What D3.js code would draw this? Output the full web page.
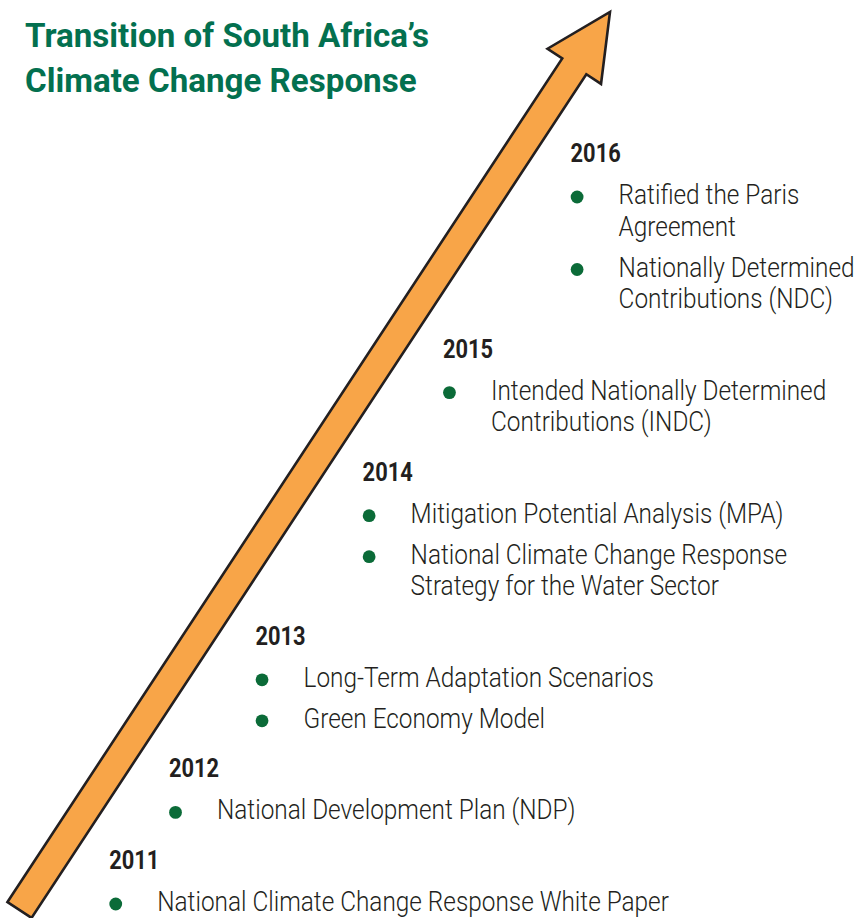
<!DOCTYPE html>
<html>
<head>
<meta charset="utf-8">
<script src="https://cdn.jsdelivr.net/npm/d3@7"></script>
<style>
  html, body { margin: 0; padding: 0; background: #ffffff; }
  svg { display: block; }
</style>
</head>
<body>
<svg id="chart" width="860" height="918"></svg>
<script>
// ---------- data ----------
const titleLines = ["Transition of South Africa\u2019s", "Climate Change Response"];
const years = [2016, 2015, 2014, 2013, 2012, 2011];
const items2016 = [["Ratified the Paris", "Agreement"], ["Nationally Determined", "Contributions (NDC)"]];
const items2015 = [["Intended Nationally Determined", "Contributions (INDC)"]];
const items2014 = [["Mitigation Potential Analysis (MPA)"], ["National Climate Change Response", "Strategy for the Water Sector"]];
const items2013 = [["Long-Term Adaptation Scenarios"], ["Green Economy Model"]];
const items2012 = [["National Development Plan (NDP)"]];
const items2011 = [["National Climate Change Response White Paper"]];
const itemsByYear = [items2016, items2015, items2014, items2013, items2012, items2011];

// ---------- style / layout ----------
const C = {
  title: "#03704f", text: "#231f20", bullet: "#0b6b38",
  arrowFill: "#f8a548", arrowStroke: "#231f20"
};
const svg = d3.select("#chart");

// Arrow geometry (start = bottom centre, end = tip)
const arrowStart = [19.5, 910], arrowTip = [610, 12];
const shaftHalf = 14.4, headHalf = 32, headLen = 65;
const dx = arrowTip[0] - arrowStart[0], dy = arrowTip[1] - arrowStart[1];
const L = Math.hypot(dx, dy);
const u = [dx / L, dy / L];          // along arrow
const p = [-u[1], u[0]];             // right-hand normal
const along = d3.scaleLinear().domain([0, 1]).range([0, L]);
const pt = (t, off) => [arrowStart[0] + u[0] * along(t) + p[0] * off,
                        arrowStart[1] + u[1] * along(t) + p[1] * off];
const tb = 1 - headLen / L;
const arrowPts = [
  pt(0, -shaftHalf), pt(tb, -shaftHalf), pt(tb, -headHalf), pt(1, 0),
  pt(tb, headHalf), pt(tb, shaftHalf), pt(0, shaftHalf)
];
svg.append("path")
  .attr("d", d3.line()(arrowPts) + "Z")
  .attr("fill", C.arrowFill)
  .attr("stroke", C.arrowStroke)
  .attr("stroke-width", 2.6)
  .attr("stroke-linejoin", "miter");

// right edge x of the shaft at a given y
const rightEdge = [pt(0, shaftHalf), pt(tb, shaftHalf)];
const edgeX = d3.scaleLinear().domain([rightEdge[0][1], rightEdge[1][1]])
                              .range([rightEdge[0][0], rightEdge[1][0]]);

const sxTitle = 0.975, sxYear = 0.84, sxBody = 0.87;
function addText(x, y, str, size, weight, color, sx) {
  svg.append("text")
    .attr("transform", `translate(${x},${y}) scale(${sx},1)`)
    .attr("font-family", "Roboto, 'Noto Sans', sans-serif")
    .attr("font-size", size)
    .attr("font-weight", weight)
    .attr("fill", color)
    .text(str);
}
titleLines.forEach((s, i) => addText(25, 47 + i * 45, s, 34, 700, C.title, sxTitle));

// Timeline blocks, stacked from top so that the final line lands at the bottom
const topY = 162, bottomY = 911;
const yearToItem = 42, lineH = 31.5, itemGap = 41;
const blockContent = itemsByYear.map(items =>
  yearToItem + items.reduce((s, it, i) => s + (i > 0 ? itemGap : 0) + (it.length - 1) * lineH, 0));
const blockGap = (bottomY - topY - d3.sum(blockContent)) / (years.length - 1);

let y = topY;
years.forEach((yr, bi) => {
  const yx = edgeX(y) + 42 + (y - topY) * 0.005;
  addText(yx, y, String(yr), 26, 700, C.text, sxYear);
  let ly = y + yearToItem;
  itemsByYear[bi].forEach((lines, ii) => {
    if (ii > 0) ly += itemGap;
    svg.append("circle")
      .attr("cx", yx + 6.5).attr("cy", ly - 7).attr("r", 6.4)
      .attr("fill", C.bullet);
    lines.forEach((ln, li) => {
      if (li > 0) ly += lineH;
      addText(yx + 48, ly, ln, 28, 300, C.text, sxBody);
    });
  });
  y = ly + blockGap;
});
</script>
</body>
</html>
